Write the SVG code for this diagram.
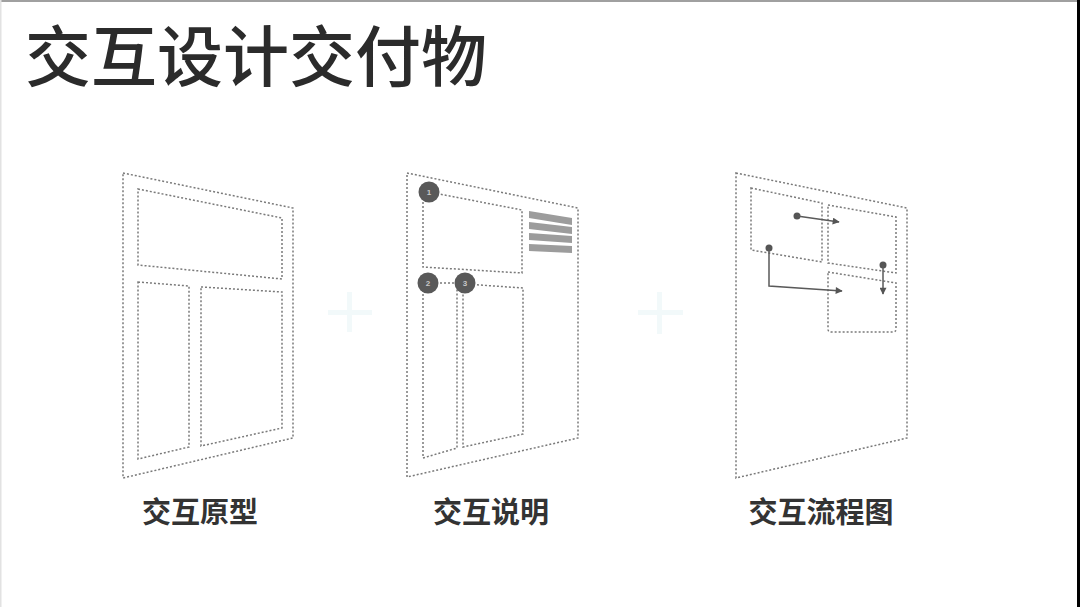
<svg xmlns="http://www.w3.org/2000/svg" width="1080" height="607" viewBox="0 0 1080 607">
<defs>
<style>
.dot{fill:none;stroke:#7a7a7a;stroke-width:1.5;stroke-dasharray:2 2;}
.conn{fill:none;stroke:#5a5a5a;stroke-width:1.5;}
.num{fill:#595959;}
.numt{font-family:"Liberation Sans",sans-serif;font-size:8px;font-weight:bold;fill:#c8c8c8;text-anchor:middle;}
.bar{fill:#9c9c9c;}
.lbl{font-family:"Noto Sans CJK SC",sans-serif;font-size:29px;font-weight:bold;fill:#333;text-anchor:middle;}
.title{font-family:"Noto Sans CJK SC",sans-serif;font-size:66px;font-weight:500;fill:#2b2b2b;}
.plus{fill:#f2f9fa;}
</style>
<marker id="ah" viewBox="0 0 10 10" refX="9" refY="5" markerWidth="8" markerHeight="7" orient="auto" markerUnits="userSpaceOnUse">
<path d="M0,0 L10,5 L0,10 z" fill="#555"/>
</marker>
</defs>
<rect width="1080" height="607" fill="#fff"/>
<rect x="0" y="0" width="1080" height="2" fill="#a0a0a0"/>
<rect x="0" y="0" width="1.5" height="607" fill="#e2e2e2"/>
<rect x="1077" y="0" width="3" height="607" fill="#000"/>

<text class="title" x="25" y="81">交互设计交付物</text>

<g id="plus1"><rect class="plus" x="328" y="310" width="44" height="5"/><rect class="plus" x="347" y="292" width="5" height="40"/></g>
<g id="plus2"><rect class="plus" x="638" y="310" width="45" height="5"/><rect class="plus" x="657" y="292" width="5" height="42"/></g>

<g id="prototype">
<polygon class="dot" points="123,173 293,208 293,438 123,478"/>
<polygon class="dot" points="138,189 282,218 282,279 138,265"/>
<polygon class="dot" points="138,282 189,286 189,447 138,459"/>
<polygon class="dot" points="201,287 282,292 282,428 201,446"/>
<text class="lbl" x="200" y="523">交互原型</text>
</g>

<g id="annotation">
<polygon class="dot" points="407,173 578,208 578,438 407,477"/>
<polygon class="dot" points="429,192 522,210 522,273 423,267 423,200"/>
<polyline class="dot" points="428,283 465,283"/>
<polyline class="dot" points="423,290 423,458 457,448 457,288"/>
<polyline class="dot" points="465,284 523,288 523,434 463,447 463,292"/>
<polygon class="bar" points="529,211 572,218 572,225 529,218"/>
<polygon class="bar" points="529,222 572,227 572,234 529,229"/>
<polygon class="bar" points="529,233 572,236 572,243 529,240"/>
<polygon class="bar" points="529,244 572,246 572,253 529,251"/>
<circle class="num" cx="429" cy="192" r="10.5"/><text class="numt" x="429" y="195">1</text>
<circle class="num" cx="428" cy="283" r="10.5"/><text class="numt" x="428" y="286">2</text>
<circle class="num" cx="465" cy="283" r="10.5"/><text class="numt" x="465" y="286">3</text>
<text class="lbl" x="491" y="523">交互说明</text>
</g>

<g id="flow">
<polygon class="dot" points="736,173 907,208 907,438 736,478"/>
<polygon class="dot" points="751,188 822,203 822,262 751,250"/>
<polygon class="dot" points="828,205 896,217 896,273 828,263"/>
<path class="dot" d="M828,272 L896,283 L896,329 Q896,332 893,332 L831,332 Q828,332 828,329 Z"/>
<text class="lbl" x="821" y="523">交互流程图</text>
</g>

<g id="connectors">
<circle cx="797" cy="216" r="3.5" fill="#555"/>
<line class="conn" x1="797" y1="216" x2="839" y2="222" marker-end="url(#ah)"/>
<circle cx="769" cy="248" r="3.5" fill="#555"/>
<polyline class="conn" points="769,248 769,286 842,291" marker-end="url(#ah)"/>
<circle cx="883" cy="265" r="3.5" fill="#555"/>
<line class="conn" x1="883" y1="265" x2="883" y2="294" marker-end="url(#ah)"/>
</g>
</svg>
